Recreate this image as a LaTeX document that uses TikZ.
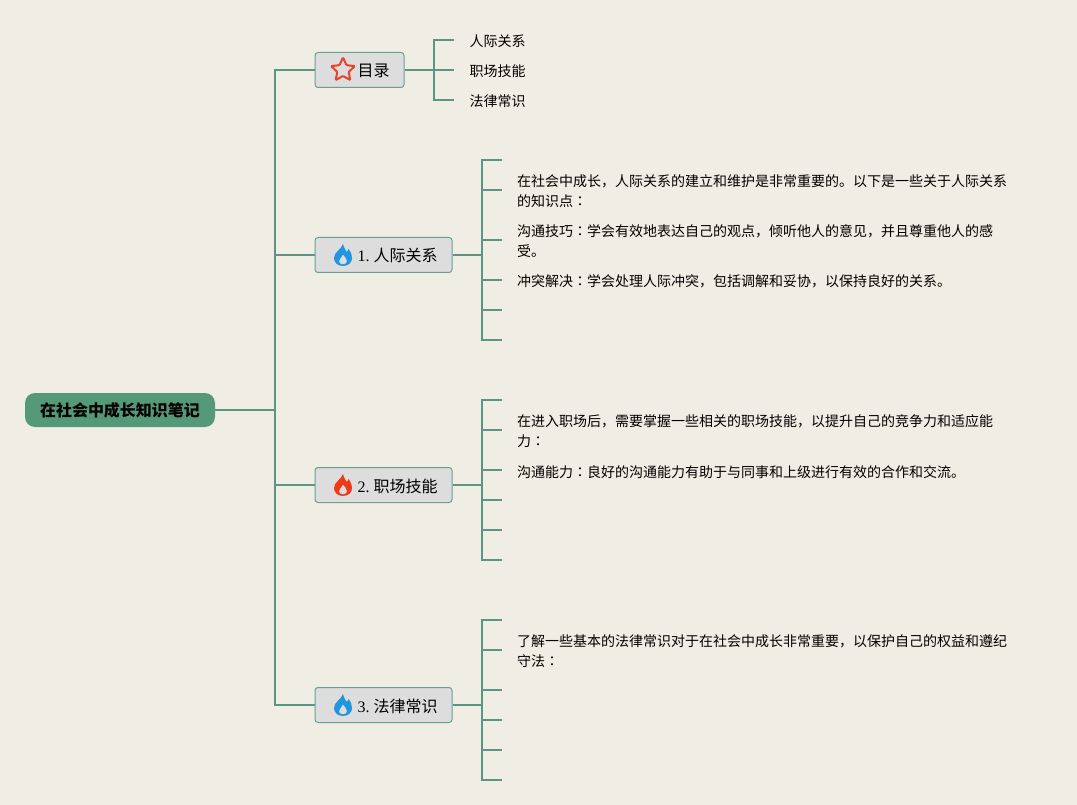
\documentclass[tikz,border=0pt]{standalone}
\usepackage{fontspec}
\setmainfont{Liberation Serif}
\newfontfamily\cjk{Noto Sans CJK SC}
\newfontfamily\cjktc{Noto Sans CJK TC}
\newcommand\midcolon{{\cjktc ：}}
\usetikzlibrary{shapes.geometric}
\definecolor{paper}{HTML}{F0EEE4}
\definecolor{branchcol}{HTML}{5B9584}
\definecolor{rootcol}{HTML}{559A78}
\definecolor{topiccol}{HTML}{DCDDDC}
\definecolor{topicline}{HTML}{6A9F94}
\definecolor{flameblue}{HTML}{1E96E0}
\definecolor{flamered}{HTML}{F03A17}
\definecolor{starred}{HTML}{E8432E}

\begin{document}
\begin{tikzpicture}[
    x = 1pt,
    y = -1pt,
    branch/.style={draw=branchcol, line width=2pt},
    root/.style={rectangle, rounded corners=10pt, fill=rootcol, minimum width=190pt, minimum height=34pt, inner sep=0pt, font=\fontsize{16}{20}\selectfont\cjk\bfseries},
    topic/.style={rectangle, rounded corners=3pt, draw=topicline, line width=1pt, fill=topiccol, minimum height=35pt, inner sep=0pt, text height=16pt, text depth=2pt, font=\fontsize{16}{20}\selectfont},
    short/.style={anchor=west, inner sep=0pt, font=\fontsize{14}{20}\selectfont\cjk},
    note/.style={anchor=west, inner sep=0pt, align=left, font=\fontsize{14}{20}\selectfont\cjk},
    staricon/.style={star, star points=5, star point ratio=2.1, draw=starred, line width=2pt, rounded corners=1pt, minimum size=25pt, inner sep=0pt},
    flame/.pic={
        \fill[#1, even odd rule]
            (0,11) .. controls (-6,11) and (-9,7) .. (-9,3) .. controls (-9,-3) and (-2,-5) .. (0,-11)
            .. controls (1,-7) and (3,-4) .. (4,-3) .. controls (5,-4) and (5,-5) .. (5.5,-6)
            .. controls (8,-3) and (9,0) .. (9,3) .. controls (9,7) and (6,11) .. (0,11) -- cycle
            (0,9.5) .. controls (-3,9.5) and (-4,7.5) .. (-4,6) .. controls (-4,3.5) and (-1,2.5) .. (0,-0.5)
            .. controls (1.5,1.5) and (4,3.5) .. (4,6) .. controls (4,7.5) and (3,9.5) .. (0,9.5) -- cycle;
    }
]
    \fill[paper] (0,0) rectangle (1077,805);

    % main nodes
    \node[root] (book) at (120,410) {在社会中成长知识笔记};
    \node[topic, minimum width=89pt] (mulu) at (359.5,70) {\hspace*{28pt}{\cjk 目录}};
    \node[topic, minimum width=137pt] (renji) at (383.5,255) {\hspace*{28pt}1.\hspace{4pt}{\cjk 人际关系}};
    \node[topic, minimum width=137pt] (zhichang) at (383.5,485) {\hspace*{28pt}2.\hspace{4pt}{\cjk 职场技能}};
    \node[topic, minimum width=137pt] (falv) at (383.5,705) {\hspace*{28pt}3.\hspace{4pt}{\cjk 法律常识}};

    \node[staricon] (star0) at (343,70) {};
    \pic at (343,255) {flame=flameblue};
    \pic at (343,485) {flame=flamered};
    \pic at (343,705) {flame=flameblue};

    % trunk
    \coordinate (trunk) at (275,410);
    \draw[branch] (book) -- (trunk);
    \draw[branch] (trunk) |- (mulu);
    \draw[branch] (trunk) |- (renji);
    \draw[branch] (trunk) |- (zhichang);
    \draw[branch] (trunk) |- (falv);

    % mulu leaves
    \coordinate (hub0) at (434,70);
    \coordinate (m1) at (454,40);
    \coordinate (m2) at (454,70);
    \coordinate (m3) at (454,100);
    \node[short] (t1) at (469.5,41.5) {人际关系};
    \node[short] (t2) at (469.5,71.5) {职场技能};
    \node[short] (t3) at (469.5,101.5) {法律常识};
    \draw[branch] (mulu) -- (hub0);
    \draw[branch] (hub0) |- (m1);
    \draw[branch] (hub0) -- (m2);
    \draw[branch] (hub0) |- (m3);

    % renji leaves
    \coordinate (hub1) at (482,255);
    \coordinate (a1) at (502,160);
    \coordinate (a2) at (502,190);
    \coordinate (a3) at (502,240);
    \coordinate (a4) at (502,280);
    \coordinate (a5) at (502,310);
    \coordinate (a6) at (502,340);
    \node[note] (n1) at (517,191.3) {在社会中成长，人际关系的建立和维护是非常重要的。以下是一些关于人际关系\\的知识点\midcolon};
    \node[note] (n2) at (517,241.3) {沟通技巧\midcolon 学会有效地表达自己的观点，倾听他人的意见，并且尊重他人的感\\受。};
    \node[note] (n3) at (517,281.7) {冲突解决\midcolon 学会处理人际冲突，包括调解和妥协，以保持良好的关系。};
    \draw[branch] (renji) -- (hub1);
    \draw[branch] (hub1) |- (a1);
    \draw[branch] (hub1) |- (a2);
    \draw[branch] (hub1) |- (a3);
    \draw[branch] (hub1) |- (a4);
    \draw[branch] (hub1) |- (a5);
    \draw[branch] (hub1) |- (a6);

    % zhichang leaves
    \coordinate (hub2) at (482,485);
    \coordinate (b1) at (502,400);
    \coordinate (b2) at (502,430);
    \coordinate (b3) at (502,470);
    \coordinate (b4) at (502,500);
    \coordinate (b5) at (502,530);
    \coordinate (b6) at (502,560);
    \node[note] (n4) at (517,431.3) {在进入职场后，需要掌握一些相关的职场技能，以提升自己的竞争力和适应能\\力\midcolon};
    \node[note] (n5) at (517,471.7) {沟通能力\midcolon 良好的沟通能力有助于与同事和上级进行有效的合作和交流。};
    \draw[branch] (zhichang) -- (hub2);
    \draw[branch] (hub2) |- (b1);
    \draw[branch] (hub2) |- (b2);
    \draw[branch] (hub2) |- (b3);
    \draw[branch] (hub2) |- (b4);
    \draw[branch] (hub2) |- (b5);
    \draw[branch] (hub2) |- (b6);

    % falv leaves
    \coordinate (hub3) at (482,705);
    \coordinate (c1) at (502,620);
    \coordinate (c2) at (502,650);
    \coordinate (c3) at (502,690);
    \coordinate (c4) at (502,720);
    \coordinate (c5) at (502,750);
    \coordinate (c6) at (502,780);
    \node[note] (n6) at (517,651.3) {了解一些基本的法律常识对于在社会中成长非常重要，以保护自己的权益和遵纪\\守法\midcolon};
    \draw[branch] (falv) -- (hub3);
    \draw[branch] (hub3) |- (c1);
    \draw[branch] (hub3) |- (c2);
    \draw[branch] (hub3) |- (c3);
    \draw[branch] (hub3) |- (c4);
    \draw[branch] (hub3) |- (c5);
    \draw[branch] (hub3) |- (c6);
\end{tikzpicture}
\end{document}
